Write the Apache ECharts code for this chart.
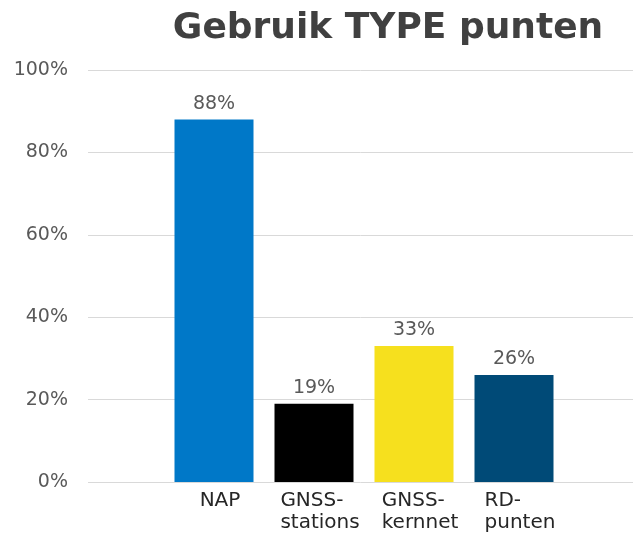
<!DOCTYPE html>
<html>
<head>
<meta charset="utf-8">
<script src="https://cdn.jsdelivr.net/npm/echarts@6/dist/echarts.min.js"></script>
<style>html,body{margin:0;padding:0;background:#fff}#c{width:633px;height:533px}</style>
</head>
<body>
<div id="c"></div>
<script>
var titleText = 'Gebruik TYPE punten';
var categories = ['NAP', 'GNSS-\nstations', 'GNSS-\nkernnet', 'RD-\npunten'];
var values = [88, 19, 33, 26];
var barColors = ['#0078c8', '#000000', '#f6e01e', '#004a77'];
var yTicks = [0, 20, 40, 60, 80, 100];

var chart = echarts.init(document.getElementById('c'), null, {renderer: 'canvas'});
var font = 'DejaVu Sans';
chart.setOption({
  animation: false,
  backgroundColor: '#ffffff',
  title: {
    text: titleText,
    left: 383, top: 6, textAlign: 'center',
    textStyle: {fontFamily: font, fontWeight: 'bold', fontSize: 36, color: '#404040'}
  },
  grid: [
    {left: 164, right: 69, top: 70, bottom: 51},
    {left: 88, right: 0, top: 70, bottom: 51}
  ],
  xAxis: [
    {
      type: 'category', gridIndex: 0, data: categories,
      axisLine: {show: false}, axisTick: {show: false},
      axisLabel: {
        interval: 0, margin: 8, padding: [0, 0, 0, 12],
        formatter: function (v) {
          return v.split('\n').map(function (l) { return '{a|' + l + '}'; }).join('\n');
        },
        rich: {a: {fontFamily: font, fontSize: 20, color: '#262626', lineHeight: 22, align: 'left'}}
      }
    },
    {type: 'value', gridIndex: 1, show: false}
  ],
  yAxis: [
    {type: 'value', gridIndex: 0, min: 0, max: yTicks[yTicks.length - 1], interval: 20, show: false},
    {
      type: 'value', gridIndex: 1, min: 0, max: yTicks[yTicks.length - 1], interval: 20,
      axisLine: {show: false}, axisTick: {show: false},
      splitLine: {show: true, lineStyle: {color: '#d9d9d9', width: 1}},
      axisLabel: {fontFamily: font, fontSize: 19, color: '#595959', margin: 20, formatter: '{value}%'}
    }
  ],
  series: [{
    type: 'bar', xAxisIndex: 0, yAxisIndex: 0,
    barWidth: 79,
    data: values.map(function (v, i) { return {value: v, itemStyle: {color: barColors[i]}}; }),
    label: {
      show: true, position: 'top', distance: 6,
      fontFamily: font, fontSize: 19, color: '#595959',
      formatter: '{c}%'
    }
  }]
});
</script>
</body>
</html>
